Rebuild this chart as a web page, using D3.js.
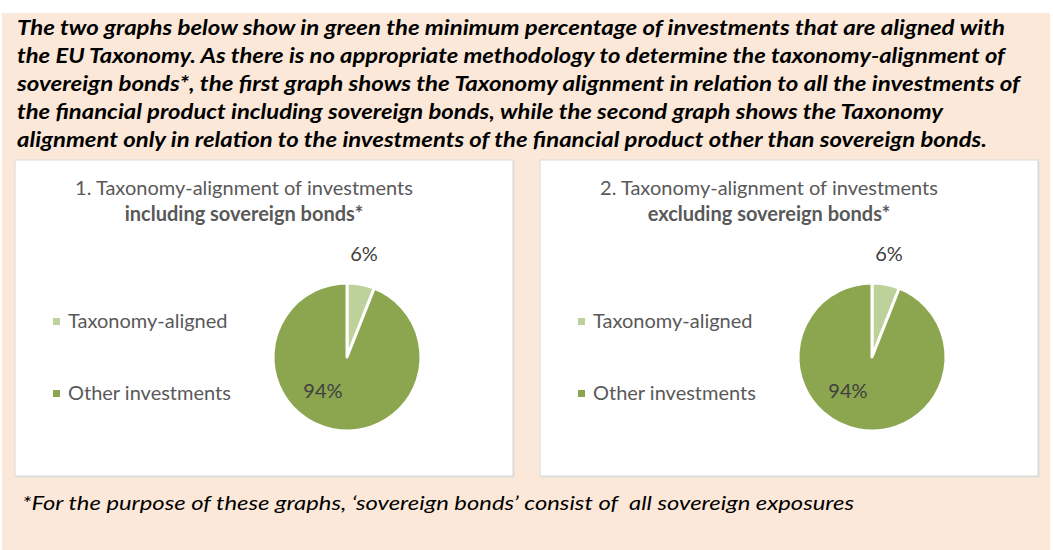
<!DOCTYPE html>
<html>
<head>
<meta charset="utf-8">
<script src="https://cdn.jsdelivr.net/npm/d3@7"></script>
<style>
  body { margin: 0; background: #fff; }
  svg { display: block; }
  text { font-family: Lato, "Open Sans", sans-serif; white-space: pre; }
</style>
</head>
<body>
<div id="chart"></div>
<script>
// data
const categories = ["Taxonomy-aligned", "Other investments"];
const includingValues = [6, 94];
const excludingValues = [6, 94];
const chartTitles = [
  ["1. Taxonomy-alignment of investments", "including sovereign bonds*"],
  ["2. Taxonomy-alignment of investments", "excluding sovereign bonds*"]
];
const headerLines = [
  "The two graphs below show in green the minimum percentage of investments that are aligned with",
  "the EU Taxonomy. As there is no appropriate methodology to determine the taxonomy-alignment of",
  "sovereign bonds*, the first graph shows the Taxonomy alignment in relation to all the investments of",
  "the financial product including sovereign bonds, while the second graph shows the Taxonomy",
  "alignment only in relation to the investments of the financial product other than sovereign bonds."
];
const footnote = "*For the purpose of these graphs, \u2018sovereign bonds\u2019 consist of  all sovereign exposures";

// layout
const width = 1053, height = 550;
const headerEnds = [1005, 1005, 1020, 943, 987];
const colors = ["#bdd19b", "#8ba64f"];
const textGray = "#595959";

const svg = d3.select("#chart").append("svg")
  .attr("width", width)
  .attr("height", height);

svg.append("rect")
  .attr("x", 2).attr("y", 13)
  .attr("width", 1048).attr("height", height - 13)
  .attr("fill", "#fbe8d8");

// header paragraph
svg.append("g")
  .selectAll("text")
  .data(headerLines)
  .join("text")
  .attr("x", 17)
  .attr("y", (d, i) => 35 + i * 28)
  .attr("textLength", (d, i) => headerEnds[i] - 17)
  .attr("lengthAdjust", "spacingAndGlyphs")
  .style("font-size", "20px")
  .style("font-weight", "bold")
  .style("font-style", "italic")
  .attr("fill", "#000")
  .text(d => d);

// footnote
svg.append("text")
  .attr("x", 22)
  .attr("y", 510)
  .attr("textLength", 854 - 22)
  .attr("lengthAdjust", "spacingAndGlyphs")
  .style("font-size", "19px")
  .style("font-style", "italic")
  .attr("fill", "#000")
  .text(footnote);

const color = d3.scaleOrdinal().domain(categories).range(colors);
const radius = 74;
const arc = d3.arc().innerRadius(0).outerRadius(radius);
const pie = d3.pie().sort(null).value(d => d.value);

const labelPos = [
  { angle: 9.4 * Math.PI / 180, r: 104 },
  { angle: 215 * Math.PI / 180, r: 42 }
];

function drawPanel(x0, values, title) {
  const panelW = 498, panelH = 316;
  const g = svg.append("g").attr("transform", `translate(${x0},160)`);

  // shadow + box
  g.append("rect")
    .attr("x", 1.5).attr("y", 1.5)
    .attr("width", panelW).attr("height", panelH)
    .attr("fill", "#dcdcdc");
  g.append("rect")
    .attr("x", 0).attr("y", 0)
    .attr("width", panelW).attr("height", panelH)
    .attr("fill", "#fff")
    .attr("stroke", "#d9d9d9")
    .attr("stroke-width", 1);

  g.append("text")
    .attr("x", 229).attr("y", 35)
    .attr("text-anchor", "middle")
    .style("font-size", "20px")
    .attr("fill", textGray)
    .text(title[0]);
  g.append("text")
    .attr("x", 229).attr("y", 61)
    .attr("text-anchor", "middle")
    .style("font-size", "20px")
    .style("font-weight", "bold")
    .attr("fill", textGray)
    .text(title[1]);

  const data = categories.map((c, i) => ({ name: c, value: values[i] }));

  // legend
  const legend = g.append("g")
    .selectAll("g")
    .data(data)
    .join("g")
    .attr("transform", (d, i) => `translate(38,${161 + i * 72})`);
  legend.append("rect")
    .attr("x", 0).attr("y", -3)
    .attr("width", 7).attr("height", 7)
    .attr("fill", d => color(d.name));
  legend.append("text")
    .attr("x", 15).attr("y", 0)
    .attr("dy", "0.35em")
    .style("font-size", "20px")
    .attr("fill", textGray)
    .text(d => d.name);

  // pie
  const pg = g.append("g").attr("transform", `translate(332,197)`);
  const arcs = pie(data);
  pg.selectAll("path")
    .data(arcs)
    .join("path")
    .attr("d", arc)
    .attr("fill", d => color(d.data.name))
    .attr("stroke", "#fff")
    .attr("stroke-width", 3)
    .attr("stroke-linejoin", "round");

  pg.selectAll("text")
    .data(arcs)
    .join("text")
    .attr("transform", (d, i) => {
      const p = d3.pointRadial(labelPos[i].angle, labelPos[i].r);
      return `translate(${p[0]},${p[1]})`;
    })
    .attr("text-anchor", "middle")
    .attr("dy", "0.35em")
    .style("font-size", "20px")
    .attr("fill", "#404040")
    .text(d => `${d.data.value}%`);
}

drawPanel(15, includingValues, chartTitles[0]);
drawPanel(540, excludingValues, chartTitles[1]);
</script>
</body>
</html>
